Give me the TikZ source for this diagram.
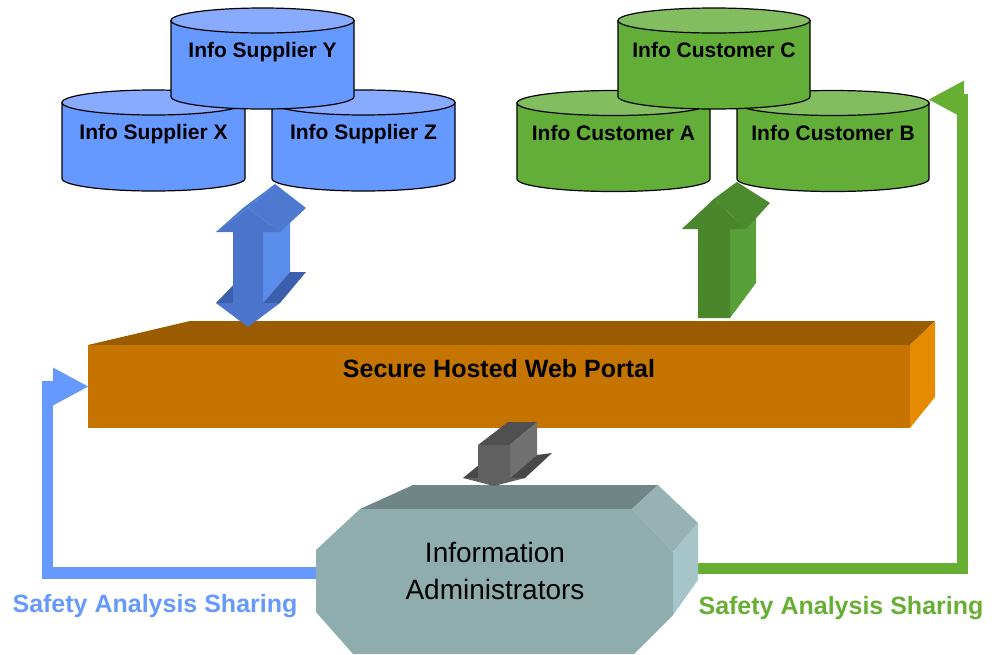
\documentclass[tikz,border=0pt]{standalone}
\usepackage{fontspec}
\setmainfont{Liberation Sans}
\usetikzlibrary{arrows.meta}
\definecolor{supfill}{RGB}{102,153,255}
\definecolor{suptop}{RGB}{136,170,255}
\definecolor{cusfill}{RGB}{99,174,56}
\definecolor{custop}{RGB}{130,190,96}
\definecolor{portfront}{RGB}{197,116,0}
\definecolor{porttop}{RGB}{155,92,0}
\definecolor{portside}{RGB}{230,138,0}
\definecolor{admfront}{RGB}{143,173,173}
\definecolor{admtop}{RGB}{112,133,133}
\definecolor{admbevel}{RGB}{150,178,180}
\definecolor{admside}{RGB}{166,197,200}
\definecolor{sharblue}{RGB}{102,153,255}
\definecolor{shargreen}{RGB}{102,175,51}
\newcommand{\infodb}[7]{%
  \filldraw[fill=#5, dbline] (#2-#4,#3) -- (#2-#4,#3+76)
    arc[start angle=180, end angle=0, x radius=#4, y radius=12.5] -- (#2+#4,#3) -- cycle;
  \filldraw[fill=#6, dbline] (#2,#3) ellipse[x radius=#4, y radius=12.5];
  \node[dblabel, anchor=base] (#1) at (#2,#3+37) {#7};
}

\begin{document}
\begin{tikzpicture}[x=1pt, y=1pt, yscale=-1,
  dbline/.style={draw=black, line width=1.2pt},
  dblabel/.style={font=\fontsize{21}{25}\selectfont\bfseries},
  portlabel/.style={font=\fontsize{25}{30}\selectfont\bfseries},
  admlabel/.style={font=\fontsize{28}{37}\selectfont, align=center},
  sharelink/.style={line width=11.5pt, line join=miter, -{Triangle[length=36pt, width=35pt]}},
  sharelabel/.style={font=\fontsize{25}{30}\selectfont\bfseries}]
\useasboundingbox (0,0) rectangle (992,654);

\coordinate (admW) at (330,573);
\coordinate (portW) at (89,386.5);
\coordinate (admE) at (690,568.5);
\coordinate (cusBE) at (928,99.5);
\draw[sharelink, sharblue] (admW) -- ++(-282.5,0) |- (portW);
\draw[sharelink, shargreen] (admE) -- ++(272.5,0) |- (cusBE);

\fill[porttop] (88,345) -- (190,321) -- (935,321) -- (910,345) -- cycle;
\fill[portside] (910,345) -- (935,321) -- (935,397) -- (910,428) -- cycle;
\fill[portfront] (88,345) rectangle (910,428);
\node[portlabel, anchor=base] (portal) at (499,377) {Secure Hosted Web Portal};

\fill[admtop] (360,509) -- (413,485) -- (658,485) -- (632,509) -- cycle;
\fill[admbevel] (632,509) -- (658,485) -- (698,523) -- (673,552) -- cycle;
\fill[admside] (673,552) -- (698,523) -- (698,580) -- (673,615) -- cycle;
\fill[admfront] (360,509) -- (632,509) -- (673,552) -- (673,615) -- (634,654)
  -- (353,654) -- (316,612) -- (316,550) -- cycle;
\node[admlabel] (admin) at (495,571) {Information\\Administrators};

\fill[fill={rgb,255:red,59;green,95;blue,173}] (216,303) -- (233,303) -- (260,275) -- (243,275) -- cycle;
\fill[fill={rgb,255:red,90;green,141;blue,235}] (263,232) -- (263,303) -- (290,272) -- (290,208) -- cycle;
\fill[fill={rgb,255:red,59;green,95;blue,173}] (263,303) -- (280,303) -- (306,272) -- (290,272) -- cycle;
\fill[fill={rgb,255:red,77;green,122;blue,208}] (216,232) -- (248,208) -- (275,184) -- (243,208) -- cycle;
\fill[fill={rgb,255:red,77;green,122;blue,208}] (248,208) -- (280,232) -- (306,208) -- (275,184) -- cycle;
\fill[fill={rgb,255:red,74;green,117;blue,202}] (248,208) -- (280,232) -- (263,232) -- (263,303) -- (280,303)
  -- (248,327) -- (216,303) -- (233,303) -- (233,232) -- (216,232) -- cycle;

\fill[fill={rgb,255:red,88;green,160;blue,56}] (730,229) -- (730,318) -- (756,283) -- (756,205) -- cycle;
\fill[fill={rgb,255:red,76;green,138;blue,46}] (682,229) -- (714,199) -- (737,182) -- (705,212) -- cycle;
\fill[fill={rgb,255:red,76;green,138;blue,46}] (714,199) -- (746,229) -- (770,203) -- (737,182) -- cycle;
\fill[fill={rgb,255:red,74;green,135;blue,44}] (714,199) -- (746,229) -- (730,229) -- (730,318)
  -- (698,318) -- (698,229) -- (682,229) -- cycle;

\fill[fill={rgb,255:red,72;green,72;blue,72}] (463,478) -- (478,478) -- (506,455) -- (491,455) -- cycle;
\fill[fill={rgb,255:red,80;green,80;blue,80}] (478,445) -- (510,445) -- (537,422) -- (508,422) -- cycle;
\fill[fill={rgb,255:red,112;green,112;blue,112}] (510,445) -- (510,478) -- (537,455) -- (537,422) -- cycle;
\fill[fill={rgb,255:red,72;green,72;blue,72}] (510,478) -- (525,478) -- (552,453) -- (537,455) -- cycle;
\fill[fill={rgb,255:red,96;green,96;blue,96}] (478,445) -- (510,445) -- (510,478) -- (525,478)
  -- (494,486) -- (463,478) -- (478,478) -- cycle;

\infodb{supX}{153.5}{102.5}{91.5}{supfill}{suptop}{Info Supplier X}
\infodb{supZ}{363.5}{102.5}{91.5}{supfill}{suptop}{Info Supplier Z}
\infodb{supY}{262.5}{20.5}{91.5}{supfill}{suptop}{Info Supplier Y}
\infodb{cusA}{613.5}{103}{96.5}{cusfill}{custop}{Info Customer A}
\infodb{cusB}{833}{103}{96}{cusfill}{custop}{Info Customer B}
\infodb{cusC}{714}{20.5}{96}{cusfill}{custop}{Info Customer C}

\node[sharelabel, sharblue, anchor=base] (shareL) at (155,612) {Safety Analysis Sharing};
\node[sharelabel, shargreen, anchor=base] (shareR) at (841,614) {Safety Analysis Sharing};
\end{tikzpicture}
\end{document}
